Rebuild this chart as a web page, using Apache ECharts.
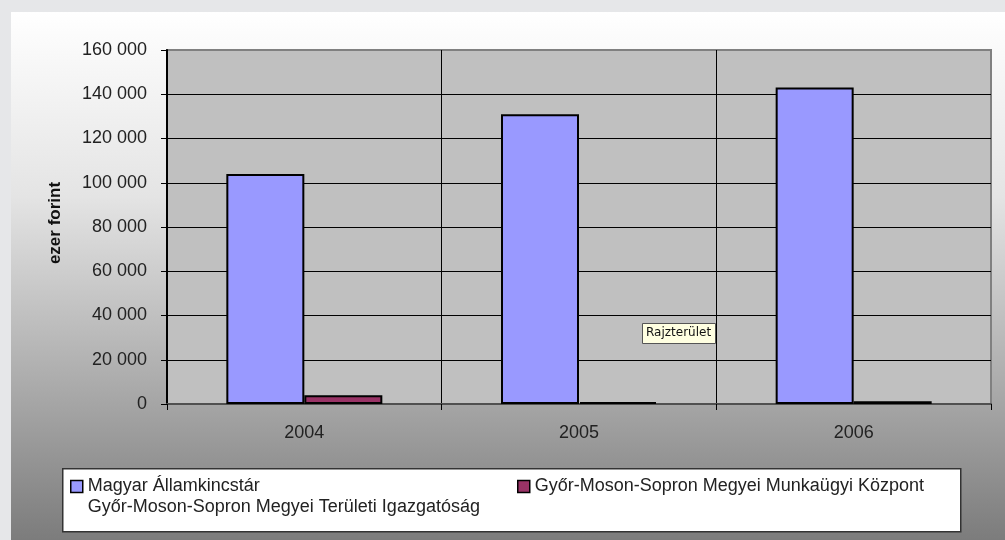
<!DOCTYPE html>
<html>
<head>
<meta charset="utf-8">
<script src="https://cdn.jsdelivr.net/npm/echarts@6/dist/echarts.min.js"></script>
<style>
html,body{margin:0;padding:0;width:1005px;height:540px;background:#e6e7e9;overflow:hidden;}
#chart{position:absolute;left:11px;top:12px;width:994px;height:528px;}
</style>
</head>
<body>
<div id="chart"></div>
<script>
const categories = ['2004', '2005', '2006'];
const seriesNames = ['Magyar Államkincstár Győr-Moson-Sopron Megyei Területi Igazgatóság', 'Győr-Moson-Sopron Megyei Munkaügyi Központ'];
const seriesA = [104000, 131000, 143000];
const seriesB = [4000, 900, 1200];
const yTicks = { min: 0, max: 160000, interval: 20000 };
const yAxisTitle = 'ezer forint';
const plotLabel = 'Rajzterület';

const chart = echarts.init(document.getElementById('chart'));
const fontFam = '"Liberation Sans", Arial, sans-serif';
const barBorder = { borderColor: '#000', borderWidth: 2 };
const ySplitColors = ['#000', '#000', '#000', '#000', '#000', '#000', '#000', '#000', '#808080'];
chart.setOption({
  animation: false,
  backgroundColor: {
    type: 'linear', x: 0, y: 0, x2: 0, y2: 1,
    colorStops: [
      { offset: 0, color: '#ffffff' },
      { offset: 0.35, color: '#e4e4e4' },
      { offset: 0.75, color: '#a4a4a4' },
      { offset: 1, color: '#7c7c7c' }
    ]
  },
  grid: { left: 156, right: 14, top: 38, bottom: 136, show: true, backgroundColor: '#c0c0c0', borderColor: '#808080', borderWidth: 2 },
  xAxis: {
    type: 'category', data: categories,
    axisLine: { lineStyle: { color: '#505050', width: 2 } },
    axisTick: { show: true, alignWithLabel: false, length: 6, lineStyle: { color: '#000' } },
    axisLabel: { color: '#222', fontSize: 18, fontFamily: fontFam, margin: 20 },
    splitLine: { show: true, lineStyle: { color: ['#000', '#000', '#000', '#808080'], width: 1 } }
  },
  yAxis: {
    type: 'value', min: yTicks.min, max: yTicks.max, interval: yTicks.interval,
    name: yAxisTitle, nameLocation: 'middle', nameGap: 103, nameRotate: 90,
    nameTextStyle: { color: '#111', fontSize: 17, fontWeight: 'bold', fontFamily: fontFam, padding: [0, 0, 0, 8] },
    axisLine: { show: true, lineStyle: { color: '#000', width: 2 } },
    axisTick: { show: true, length: 6, lineStyle: { color: '#000' } },
    axisLabel: { color: '#222', fontSize: 18, fontFamily: fontFam, margin: 20,
      formatter: v => String(v).replace(/\B(?=(\d{3})+(?!\d))/g, ' ') },
    splitLine: { show: true, lineStyle: { color: ySplitColors, width: 1 } }
  },
  legend: [
    {
      data: [seriesNames[0]], left: 54, top: 438,
      itemWidth: 12, itemHeight: 12, icon: 'rect',
      itemStyle: { borderColor: '#000', borderWidth: 1.5 },
      formatter: n => ' \n' + n.replace('Államkincstár ', 'Államkincstár\n'),
      textStyle: { color: '#222', fontSize: 18, fontFamily: fontFam, lineHeight: 21 }
    },
    {
      data: [seriesNames[1]], left: 501, top: 459,
      itemWidth: 12, itemHeight: 12, icon: 'rect',
      itemStyle: { borderColor: '#000', borderWidth: 1.5 },
      textStyle: { color: '#222', fontSize: 18, fontFamily: fontFam, lineHeight: 21 }
    }
  ],
  graphic: [
    { type: 'rect', left: 51, top: 456, z: -1, shape: { width: 898, height: 63 },
      style: { fill: '#fff', stroke: '#333', lineWidth: 1.5 }, silent: true },
    { type: 'rect', left: 631, top: 311, z: 100, shape: { width: 73, height: 20 },
      style: { fill: '#ffffe1', stroke: '#555', lineWidth: 1 }, silent: true },
    { type: 'text', left: 635, top: 315, z: 101,
      style: { text: plotLabel, fill: '#111', font: '12px "DejaVu Sans", Tahoma, sans-serif' }, silent: true }
  ],
  series: [
    { name: seriesNames[0], type: 'bar', data: seriesA, barWidth: 78, barGap: '0%',
      itemStyle: Object.assign({ color: '#9999ff' }, barBorder) },
    { name: seriesNames[1], type: 'bar', data: seriesB, barWidth: 78, barGap: '0%',
      itemStyle: Object.assign({ color: '#993366' }, barBorder) }
  ]
});
</script>
</body>
</html>
